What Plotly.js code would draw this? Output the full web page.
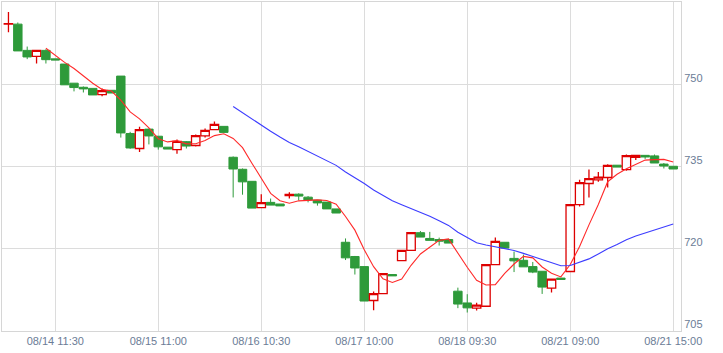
<!DOCTYPE html>
<html>
<head>
<meta charset="utf-8">
<script src="https://cdn.plot.ly/plotly-3.0.1.min.js"></script>
<style>html,body{margin:0;padding:0;background:#fff;}#chart{width:723px;height:353px;}</style>
</head>
<body>
<div id="chart"></div>
<script>
// Bar index positions (one per candle)
const idx = [];
for (let i = 0; i < 72; i++) idx.push(i);

const openV = [761.0,761.0,756.2,755.1,756.2,754.65,753.7,750.2,749.45,749.25,
  748.1,748.9,751.5,741.0,738.25,741.8,740.5,738.5,738.05,739.5,
  738.8,740.55,741.7,742.3,736.65,734.45,732.25,727.45,728.4,728.1,
  729.65,729.9,729.35,728.8,728.45,727.2,721.1,718.5,716.65,710.45,
  711.7,715.2,717.75,719.6,722.85,721.8,721.6,721.6,712.15,710.0,
  709.05,709.4,717.0,721.1,718.15,717.8,716.65,715.8,712.7,714.55,
  715.75,728.0,731.85,732.5,732.95,735.2,734.4,736.65,737.0,736.9,
  735.4,735.0];
const highV = [763.2,761.3,756.9,756.2,756.4,754.65,753.7,750.2,749.6,749.25,
  749.25,748.9,751.5,741.3,742.25,741.9,740.5,738.5,739.9,739.6,
  740.8,741.9,743.2,742.3,736.8,734.6,732.25,729.9,729.1,728.1,
  730.25,730.05,729.55,728.8,728.45,727.2,721.8,718.6,716.65,712.1,
  715.35,715.2,719.6,722.85,723.15,723.0,721.95,721.6,712.8,711.6,
  710.05,717.0,721.95,721.1,719.4,718.85,717.5,715.8,714.45,714.55,
  728.0,732.55,734.4,733.95,735.35,735.2,737.15,737.0,737.0,737.15,
  735.6,735.0];
const lowV = [759.5,756.1,754.6,753.8,753.8,754.45,749.9,748.7,748.5,748.05,
  747.8,748.4,740.25,738.2,737.6,739.0,738.05,738.15,737.3,738.25,
  738.6,740.25,741.7,741.2,729.3,729.8,727.35,727.45,727.9,727.75,
  729.1,728.75,728.4,727.8,727.2,726.45,717.85,715.2,710.35,708.65,
  711.7,714.95,717.75,719.6,722.05,721.45,720.5,720.95,709.05,708.25,
  708.6,709.4,717.0,720.05,715.65,716.6,715.45,711.65,711.9,714.3,
  715.75,727.65,729.3,732.15,731.1,734.85,734.2,736.15,736.35,735.6,
  734.6,734.5];
const closeV = [761.1,756.1,755.0,756.2,754.5,754.45,749.9,749.4,749.15,748.05,
  748.85,748.4,741.1,738.35,741.7,740.55,738.55,738.15,739.55,738.7,
  740.6,741.55,742.65,741.2,734.5,732.15,727.35,728.35,727.9,727.75,
  729.85,729.55,728.85,728.3,727.2,726.45,718.25,716.4,710.35,711.7,
  715.35,714.95,719.6,722.85,722.05,721.45,721.3,720.95,709.8,709.1,
  709.6,717.0,721.25,720.05,717.7,716.6,715.65,712.9,714.35,714.3,
  728.0,732.0,732.75,733.0,735.15,734.85,736.95,737.0,736.7,735.6,
  735.05,734.5];

// Short moving average (red), values from bar 4 onward
const maShortX = idx.slice(4);
const maShort = [756.58,755.25,754.01,752.89,751.48,750.19,749.07,748.77,747.11,744.95,
  743.68,742.02,740.05,739.46,739.70,739.10,739.11,739.71,740.61,740.94,
  740.10,738.41,735.57,732.71,730.05,728.70,728.24,728.68,728.78,728.86,
  728.75,728.07,725.81,723.32,719.73,716.63,714.41,713.75,714.39,716.89,
  718.96,720.18,721.45,721.72,719.11,716.52,714.15,713.29,713.35,715.40,
  717.12,718.52,718.25,716.58,715.44,714.76,717.04,720.31,724.28,728.01,
  732.18,733.55,734.54,735.39,736.13,736.22,736.26,735.77];

// Long moving average (blue), values from bar 24 onward
const maLongX = idx.slice(24);
const maLong = [745.93,744.77,743.62,742.56,741.42,740.35,739.37,738.56,737.73,736.90,
  736.07,735.17,733.96,732.98,731.86,730.66,729.65,728.70,727.96,727.29,
  726.63,725.86,725.05,724.18,722.93,721.91,721.01,720.60,720.31,720.00,
  719.60,719.07,718.51,717.87,717.31,716.80,716.86,717.41,718.06,718.97,
  719.91,720.69,721.57,722.26,722.82,723.36,723.90,724.43];

const tickPos = [5,16,27,38,49,60,71];
const tickText = ['08/14 11:30','08/15 11:00','08/16 10:30','08/17 10:00','08/18 09:30','08/21 09:00','08/21 15:00'];
const yTicks = [705,720,735,750];

const traces = [
  {
    type: 'candlestick',
    x: idx, open: openV, high: highV, low: lowV, close: closeV,
    increasing: {line: {color: '#dd0000', width: 1.3}, fillcolor: '#ffffff'},
    decreasing: {line: {color: '#2e9a3a', width: 1}, fillcolor: '#2e9a3a'},
    whiskerwidth: 0,
    hoverinfo: 'skip',
    showlegend: false
  },
  {
    type: 'scatter', mode: 'lines', x: maShortX, y: maShort,
    line: {color: '#ff2a2a', width: 1.1, shape: 'linear'},
    hoverinfo: 'skip', showlegend: false
  },
  {
    type: 'scatter', mode: 'lines', x: maLongX, y: maLong,
    line: {color: '#3c3cff', width: 1.1, shape: 'linear'},
    hoverinfo: 'skip', showlegend: false
  }
];

const layout = {
  width: 723, height: 353,
  margin: {l: 2, r: 42, t: 2, b: 22, pad: 0},
  paper_bgcolor: '#ffffff', plot_bgcolor: '#ffffff',
  showlegend: false,
  boxgap: 0.1,
  boxgroupgap: 0,
  font: {family: 'Liberation Sans, Arial, sans-serif', size: 11, color: '#6b7c96'},
  xaxis: {
    type: 'linear',
    range: [-0.69, 71.83],
    tickmode: 'array', tickvals: tickPos, ticktext: tickText,
    showgrid: true, gridcolor: '#dcdcdc', gridwidth: 1,
    showline: true, linecolor: '#d6d6d6', linewidth: 1, mirror: true,
    zeroline: false, ticks: '',
    rangeslider: {visible: false},
    tickfont: {size: 11, color: '#6b7c96'},
    fixedrange: true
  },
  yaxis: {
    side: 'right',
    range: [704.87, 765.05],
    tickmode: 'array', tickvals: yTicks,
    showgrid: true, gridcolor: '#dcdcdc', gridwidth: 1,
    showline: true, linecolor: '#d6d6d6', linewidth: 1, mirror: true,
    zeroline: false, ticks: '',
    ticklabelshift: -6,
    tickfont: {size: 11, color: '#6b7c96'},
    fixedrange: true
  }
};

Plotly.newPlot('chart', traces, layout, {staticPlot: true, displayModeBar: false});
</script>
</body>
</html>
